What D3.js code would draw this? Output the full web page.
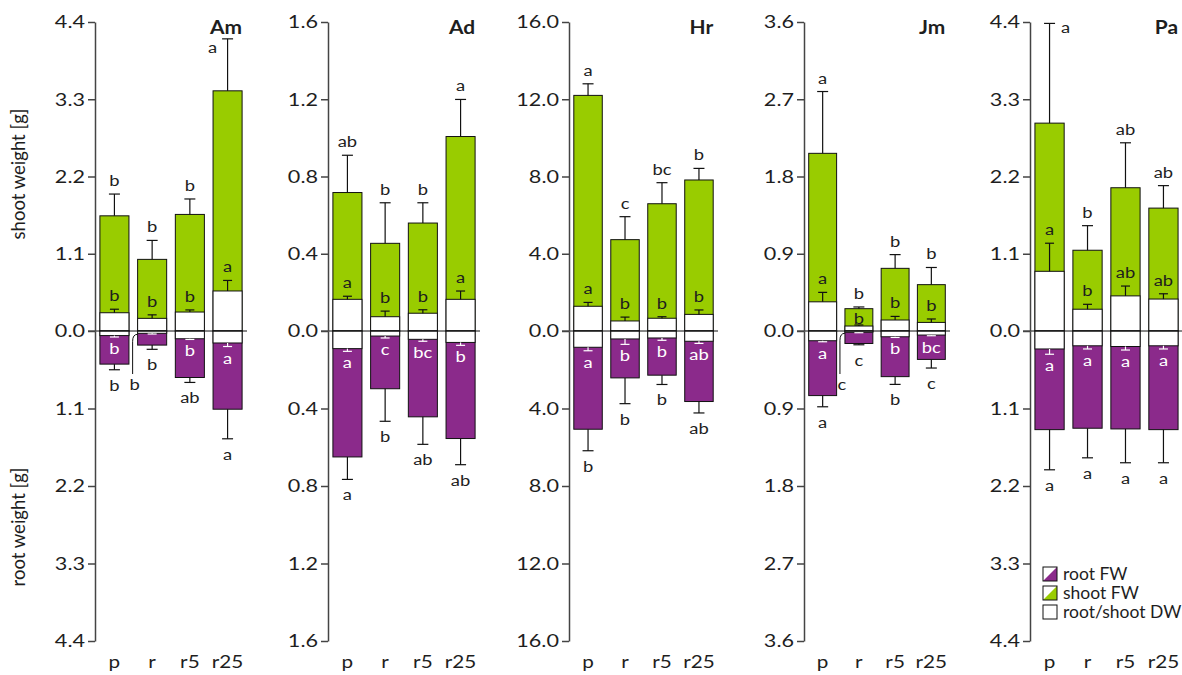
<!DOCTYPE html>
<html>
<head>
<meta charset="utf-8">
<script src="https://cdn.jsdelivr.net/npm/d3@7"></script>
<style>
  html, body { margin: 0; padding: 0; background: #fff; }
  svg { display: block; font-family: Lato, "Open Sans", sans-serif; }
</style>
</head>
<body>
<svg id="chart" width="1182" height="675"></svg>
<script>
// Species panels and treatments
const species = ["Am", "Ad", "Hr", "Jm", "Pa"];
const treatments = ["p", "r", "r5", "r25"];
const axisMax = [4.4, 1.6, 16.0, 3.6, 4.4];

// Shoot fresh weight (mean, SE) per species x treatment
const shootFW   = [[1.64, 1.02, 1.66, 3.42], [0.717, 0.454, 0.559, 1.007], [12.2, 4.73, 6.59, 7.82], [2.07, 0.26, 0.73, 0.54], [2.96, 1.15, 2.04, 1.75]];
const shootFWse = [[0.31, 0.27, 0.22, 0.74], [0.193, 0.21, 0.105, 0.192], [0.6, 1.19, 1.09, 0.6], [0.72, 0.02, 0.16, 0.2], [1.42, 0.35, 0.64, 0.32]];
// Shoot dry weight
const shootDW   = [[0.26, 0.18, 0.27, 0.57], [0.164, 0.074, 0.092, 0.164], [1.28, 0.52, 0.66, 0.86], [0.34, 0.058, 0.128, 0.10], [0.85, 0.31, 0.50, 0.455]];
const shootDWse = [[0.05, 0.05, 0.03, 0.15], [0.016, 0.029, 0.018, 0.043], [0.2, 0.2, 0.08, 0.23], [0.11, 0.012, 0.042, 0.04], [0.4, 0.07, 0.14, 0.075]];
// Root fresh weight
const rootFW    = [[0.47, 0.20, 0.66, 1.11], [0.65, 0.298, 0.443, 0.555], [5.07, 2.42, 2.28, 3.64], [0.75, 0.145, 0.53, 0.33], [1.40, 1.38, 1.39, 1.40]];
const rootFWse  = [[0.08, 0.06, 0.07, 0.42], [0.116, 0.168, 0.142, 0.135], [1.11, 1.33, 0.48, 0.59], [0.13, 0.015, 0.09, 0.1], [0.57, 0.42, 0.48, 0.47]];
// Root dry weight
const rootDW    = [[0.065, 0.033, 0.11, 0.17], [0.091, 0.026, 0.043, 0.059], [0.84, 0.41, 0.36, 0.53], [0.113, 0.015, 0.067, 0.047], [0.255, 0.21, 0.22, 0.21]];
const rootDWse  = [[0.02, 0.01, 0.01, 0.05], [0.014, 0.01, 0.01, 0.015], [0.18, 0.28, 0.12, 0.11], [0.012, 0.005, 0.008, 0.008], [0.075, 0.045, 0.05, 0.045]];

// Significance letters
const shootFWsig = [["b", "b", "b", "a"], ["ab", "b", "b", "a"], ["a", "c", "bc", "b"], ["a", "b", "b", "b"], ["a", "b", "ab", "ab"]];
const shootDWsig = [["b", "b", "b", "a"], ["a", "b", "b", "a"], ["a", "b", "b", "b"], ["a", "b", "b", "b"], ["a", "b", "ab", "ab"]];
const rootDWsig  = [["b", "b", "b", "a"], ["a", "c", "bc", "b"], ["a", "b", "b", "ab"], ["a", "c", "b", "bc"], ["a", "a", "a", "a"]];
const rootFWsig  = [["b", "b", "ab", "a"], ["a", "b", "ab", "ab"], ["b", "b", "b", "ab"], ["a", "c", "b", "c"], ["a", "a", "a", "a"]];

const legendItems = ["root FW", "shoot FW", "root/shoot DW"];

// ---- layout ----
const GREEN = "#99cc00", PURPLE = "#8b2a8b", INK = "#1e1e1e", AXIS = "#444";
const yTop = 22, yZero = 331, yBottom = 641;
const panelX = [95, 328, 569, 804, 1030];
const panelW = [152, 152, 149, 146, 153];
const TX = 1.15; // horizontal stretch of the type
const LETTER = 16;

const svg = d3.select("#chart");

function txt(g, x, y, s, opt = {}) {
  const sx = opt.sx ?? TX;
  return g.append("text")
    .attr("transform", `translate(${x},${y}) scale(${sx},1)`)
    .attr("text-anchor", opt.anchor ?? "middle")
    .attr("font-size", opt.size ?? LETTER)
    .attr("font-weight", opt.weight ?? "normal")
    .attr("fill", opt.fill ?? INK)
    .text(s);
}

function errBar(g, x, y0, y1, cap, color) {
  g.append("line").attr("x1", x).attr("x2", x).attr("y1", y0).attr("y2", y1)
    .attr("stroke", color).attr("stroke-width", 1.2);
  g.append("line").attr("x1", x - cap / 2).attr("x2", x + cap / 2).attr("y1", y1).attr("y2", y1)
    .attr("stroke", color).attr("stroke-width", 1.2);
}

// Labels that sit beside the error bar instead of above it
const besideLabel = { "Am-r25": -1, "Pa-p": 1 };

species.forEach((sp, i) => {
  const g = svg.append("g");
  const x = d3.scaleBand().domain(treatments)
    .range([panelX[i], panelX[i] + panelW[i]])
    .paddingInner(0.23).paddingOuter(0.13);
  const yS = d3.scaleLinear().domain([0, axisMax[i]]).range([yZero, yTop]);
  const yR = d3.scaleLinear().domain([0, axisMax[i]]).range([yZero, yBottom]);
  const ticks = d3.range(5).map(k => axisMax[i] * k / 4);
  const bw = x.bandwidth();

  treatments.forEach((t, j) => {
    const x0 = x(t), xc = x0 + bw / 2;
    // shoot (upwards)
    g.append("rect").attr("x", x0).attr("width", bw)
      .attr("y", yS(shootFW[i][j])).attr("height", yZero - yS(shootFW[i][j]))
      .attr("fill", GREEN).attr("stroke", "#111").attr("stroke-width", 1);
    g.append("rect").attr("x", x0).attr("width", bw)
      .attr("y", yS(shootDW[i][j])).attr("height", yZero - yS(shootDW[i][j]))
      .attr("fill", "#fff").attr("stroke", "#111").attr("stroke-width", 1);
    const fwCap = yS(shootFW[i][j] + shootFWse[i][j]);
    const dwCap = yS(shootDW[i][j] + shootDWse[i][j]);
    errBar(g, xc, yS(shootFW[i][j]), fwCap, 11, "#111");
    errBar(g, xc, yS(shootDW[i][j]), dwCap, 9, "#111");

    // root (downwards)
    g.append("rect").attr("x", x0).attr("width", bw)
      .attr("y", yZero).attr("height", yR(rootFW[i][j]) - yZero)
      .attr("fill", PURPLE).attr("stroke", "#111").attr("stroke-width", 1);
    g.append("rect").attr("x", x0).attr("width", bw)
      .attr("y", yZero).attr("height", yR(rootDW[i][j]) - yZero)
      .attr("fill", "#fff").attr("stroke", "#111").attr("stroke-width", 1);
    const rfCap = yR(rootFW[i][j] + rootFWse[i][j]);
    const rdCap = yR(rootDW[i][j] + rootDWse[i][j]);
    errBar(g, xc, yR(rootFW[i][j]), rfCap, 11, "#111");
    errBar(g, xc, yR(rootDW[i][j]), rdCap, 9, "#fff");

    // letters: shoot FW
    const side = besideLabel[sp + "-" + t];
    if (side === -1) txt(g, xc - 15, fwCap + 14, shootFWsig[i][j]);
    else if (side === 1) txt(g, xc + 16, fwCap + 10, shootFWsig[i][j]);
    else txt(g, xc, fwCap - 8, shootFWsig[i][j]);

    // letters: shoot DW (inside the green segment)
    let dwBase = dwCap - 8;
    if (dwBase - 11 < yS(shootFW[i][j]) + 2) dwBase = yS(shootFW[i][j]) + 15;
    txt(g, xc, dwBase, shootDWsig[i][j]);

    // letters: root DW (inside purple, or beside it with a leader)
    const purpleH = yR(rootFW[i][j]) - yR(rootDW[i][j]);
    if (purpleH >= 20) {
      txt(g, xc, rdCap + 17, rootDWsig[i][j], { fill: "#fff" });
    } else {
      const lx = x0 - 5, ly = yR(rootDW[i][j]) + 1, lend = yZero + 43;
      g.append("path")
        .attr("d", `M${x0},${ly} Q${lx},${ly} ${lx},${ly + 7} L${lx},${lend}`)
        .attr("fill", "none").attr("stroke", "#111").attr("stroke-width", 1);
      txt(g, lx + 2, lend + 16, rootDWsig[i][j]);
    }
    // letters: root FW
    txt(g, xc, rfCap + 21, rootFWsig[i][j]);

    // category label
    txt(g, xc, 668, t, { size: 18 });
  });

  // zero line
  g.append("line").attr("x1", panelX[i] - 7).attr("x2", panelX[i] + panelW[i])
    .attr("y1", yZero).attr("y2", yZero).attr("stroke", "#111").attr("stroke-width", 1.2);

  // axes (shoot up, root down)
  const fmt = d3.format(".1f");
  const aS = g.append("g").attr("transform", `translate(${panelX[i]},0)`)
    .call(d3.axisLeft(yS).tickValues(ticks).tickFormat(fmt).tickSize(7).tickSizeOuter(0));
  const aR = g.append("g").attr("transform", `translate(${panelX[i]},0)`)
    .call(d3.axisLeft(yR).tickValues(ticks.slice(1)).tickFormat(fmt).tickSize(7).tickSizeOuter(0));
  [aS, aR].forEach(a => {
    a.select(".domain").attr("stroke", AXIS).attr("stroke-width", 1.5);
    a.selectAll(".tick line").attr("stroke", AXIS).attr("stroke-width", 1.5);
    a.selectAll(".tick text")
      .attr("font-family", "Lato, 'Open Sans', sans-serif")
      .attr("font-size", 18).attr("fill", INK)
      .attr("x", -10 / 1.2).attr("transform", "scale(1.2,1)");
  });

  // panel title
  const xr = x("r25") + bw;
  txt(g, xr, 34, sp, { anchor: "end", size: 19, weight: "bold", sx: 1.1 });
});

// y axis titles
svg.append("text").attr("transform", "translate(25,174) rotate(-90)")
  .attr("text-anchor", "middle").attr("font-size", 18.5).attr("fill", INK).text("shoot weight [g]");
svg.append("text").attr("transform", "translate(25,527) rotate(-90)")
  .attr("text-anchor", "middle").attr("font-size", 18.5).attr("fill", INK).text("root weight [g]");

// legend
const legendFill = [PURPLE, GREEN, null];
const lg = svg.append("g").attr("transform", "translate(1043,567)");
legendItems.forEach((name, k) => {
  const row = lg.append("g").attr("transform", `translate(0,${k * 19})`);
  row.append("rect").attr("width", 14).attr("height", 14).attr("fill", "#fff");
  if (legendFill[k]) row.append("path").attr("d", "M0,14 L14,0 L14,14 Z").attr("fill", legendFill[k]);
  row.append("rect").attr("width", 14).attr("height", 14).attr("fill", "none")
    .attr("stroke", "#111").attr("stroke-width", 1);
  txt(row, 20, 13, name, { anchor: "start", size: 17.5, sx: 1.0 });
});
</script>
</body>
</html>
